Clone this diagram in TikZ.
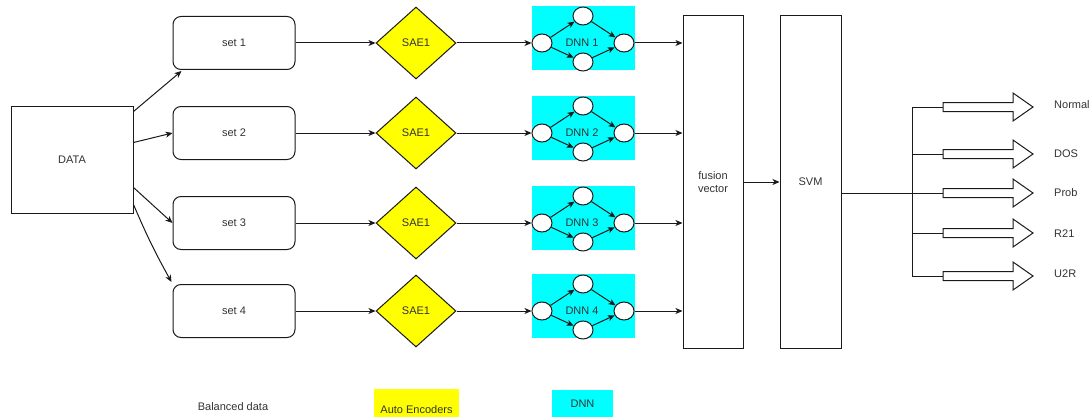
\documentclass[tikz,border=0pt]{standalone}
\usepackage{fontspec}
\setmainfont{Liberation Sans}
\usetikzlibrary{shapes.geometric,arrows.meta,calc}
\definecolor{txt}{HTML}{333333}
\definecolor{ln}{HTML}{1A1A1A}
\definecolor{aecol}{HTML}{FFFF00}
\definecolor{dnncol}{HTML}{00FFFF}
\begin{document}
\begin{tikzpicture}[x=1pt,y=-1pt,
  font=\fontsize{11}{13}\selectfont,
  every node/.style={text=txt},
  line/.style={draw=ln, line width=1pt},
  arr/.style={line, -{Stealth[length=7pt,width=6pt,inset=2pt]}},
  sarr/.style={line, -{Stealth[length=7pt,width=6pt,inset=2pt]}},
  plainbox/.style={draw=ln, line width=1pt, fill=white, inner sep=0},
  setbox/.style={plainbox, rounded corners=8pt, minimum width=122pt, minimum height=53pt},
  saebox/.style={diamond, draw=ln, line width=1pt, fill=aecol, minimum width=80pt, minimum height=72pt, inner sep=0},
  dnnbox/.style={fill=dnncol, minimum width=103pt, minimum height=64pt, inner sep=0},
  neuron/.style={ellipse, draw=ln, line width=1pt, fill=white, minimum width=20pt, minimum height=18pt, inner sep=0},
  blockarrow/.style={draw=ln, line width=1pt, fill=white},
]
\useasboundingbox[fill=white] (0,0) rectangle (1092,420);

% DATA
\node[plainbox, minimum width=122pt, minimum height=107pt] (data) at (72,159.5) {DATA};

% fusion and SVM
\node[plainbox, minimum width=60pt, minimum height=332pt, align=center] (fusion) at (713,182) {fusion\\vector};
\node[plainbox, minimum width=61pt, minimum height=332pt] (svm) at (810.5,182) {SVM};
\draw[arr] (fusion.east) -- (svm.west);

% rows
\foreach \i/\r in {1/43, 2/133, 3/223, 4/311} {
  \node[setbox] (s\i) at (234,\r) {set \i};
  \node[saebox] (sae\i) at (416,\r) {SAE1};
  \node[dnnbox] (d\i) at (583.5,{\r-5}) {};
  \node[neuron] (in\i) at (542,\r) {};
  \node[neuron] (up\i) at (583,{\r-27}) {};
  \node[neuron] (dn\i) at (583,{\r+19}) {};
  \node[neuron] (out\i) at (624,\r) {};
  \node (dl\i) at (582,\r) {DNN \i};
  \draw[sarr] (in\i) -- (up\i);
  \draw[sarr] (in\i) -- (dn\i);
  \draw[sarr] (up\i) -- (out\i);
  \draw[sarr] (dn\i) -- (out\i);
  \draw[arr] (s\i.east) -- (sae\i.west);
  \draw[arr] (sae\i.east) -- (in\i.west);
  \draw[arr] (out\i.east) -- (fusion.west |- out\i);
}

% DATA to sets
\draw[arr] ($(data.north east)+(0,6)$) -- ($(s1.south west)+(9,1)$);
\draw[arr] ($(data.north east)+(0,37)$) -- (s2.west);
\draw[arr] ($(data.north east)+(0,82)$) -- (s3.west);
\draw[arr] ($(data.south east)+(0,-9)$) to[bend right=3] ($(s4.north west)+(-1,-2)$);

% outputs
\coordinate (bus) at (912,193);
\foreach \k/\yy/\ty/\lab in {1/107/105/Normal, 2/154/154/DOS, 3/193/193/Prob, 4/233/234/R21, 5/276/274/U2R} {
  \coordinate (t\k) at (943,\yy);
  \draw[blockarrow] (943,{\yy-4.5}) -- (1013,{\yy-4.5}) -- (1013,{\yy-14}) -- (1033,\yy)
     -- (1013,{\yy+14}) -- (1013,{\yy+4.5}) -- (943,{\yy+4.5}) -- cycle;
  \node[anchor=west, inner sep=0] (lab\k) at (1054,\ty) {\lab};
}
\draw[line] (bus |- t1) -- (bus |- t5);
\foreach \k in {1,2,4,5} { \draw[line] (bus |- t\k) -- (t\k); }
\draw[line] (svm.east |- t3) -- (t3);

% legend
\node (bal) at (233,407) {Balanced data};
\node[fill=aecol, minimum width=85pt, inner xsep=0, text height=21pt, text depth=1pt, inner ysep=3pt] (legae) at (416.5,403) {Auto Encoders};
\node[fill=dnncol, minimum width=61pt, minimum height=27pt] (legdnn) at (582.5,403.5) {DNN};
\end{tikzpicture}
\end{document}
